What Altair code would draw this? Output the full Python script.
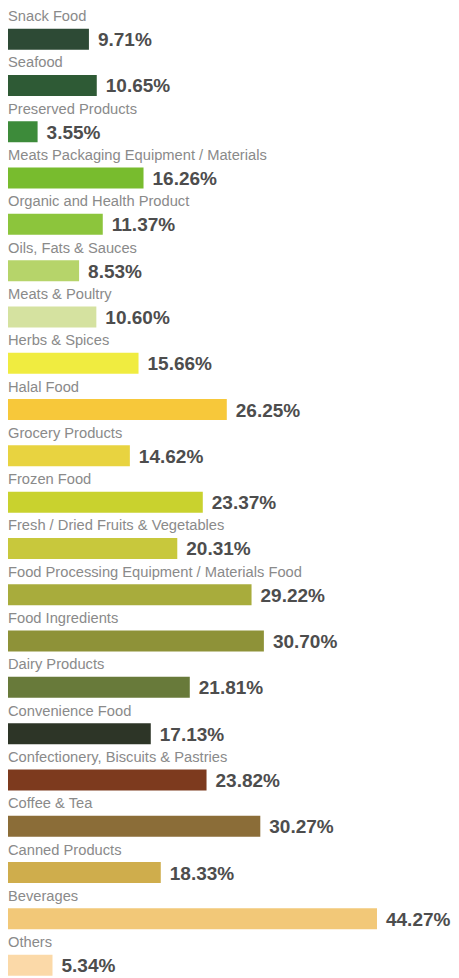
import altair as alt
import pandas as pd

categories = [
    "Snack Food", "Seafood", "Preserved Products",
    "Meats Packaging Equipment / Materials", "Organic and Health Product",
    "Oils, Fats & Sauces", "Meats & Poultry", "Herbs & Spices", "Halal Food",
    "Grocery Products", "Frozen Food", "Fresh / Dried Fruits & Vegetables",
    "Food Processing Equipment / Materials Food", "Food Ingredients",
    "Dairy Products", "Convenience Food", "Confectionery, Biscuits & Pastries",
    "Coffee & Tea", "Canned Products", "Beverages", "Others",
]
values = [9.71, 10.65, 3.55, 16.26, 11.37, 8.53, 10.60, 15.66, 26.25, 14.62,
          23.37, 20.31, 29.22, 30.70, 21.81, 17.13, 23.82, 30.27, 18.33, 44.27, 5.34]
colors = ["#2d4a35", "#2e5a35", "#3d8b3a", "#78bc2e", "#8cc53c", "#b6d46a",
          "#d5e2a0", "#f0ec40", "#f7c83a", "#e8d340", "#c9d22e", "#c8c83c",
          "#a8ac3c", "#8e9238", "#687a3a", "#2d3527", "#7d3a1e", "#8b6d38",
          "#cfad4c", "#f2c878", "#fbd9a8"]

df = pd.DataFrame({
    "cat": categories,
    "value": values,
    "color": colors,
    "label": [f"{v:.2f}%" for v in values],
    "zero": [0] * len(values),
})

y = alt.Y("cat:N", sort=None, axis=None,
          scale=alt.Scale(range=[8.0, 980.3], paddingInner=0, paddingOuter=0))
xscale = alt.Scale(domain=[0, 53.15], nice=False, zero=True)

base = alt.Chart(df)

bars = base.mark_bar(size=21, cornerRadius=0).encode(
    x=alt.X("value:Q", scale=xscale, axis=None),
    y=y,
    color=alt.Color("color:N", scale=None, legend=None),
)

vals = base.mark_text(align="left", baseline="middle", dx=9, dy=1,
                      font="Liberation Sans", fontSize=19, fontWeight="bold",
                      color="#4d4d4d").encode(
    x=alt.X("value:Q", scale=xscale),
    y=y,
    text="label:N",
)

names = base.mark_text(align="left", baseline="middle", dy=-22,
                       font="Liberation Sans", fontSize=14.7,
                       color="#8a8a8a").encode(
    x=alt.X("zero:Q", scale=xscale),
    y=y,
    text="cat:N",
)

chart = alt.layer(bars, vals, names).properties(
    width=443, height=970, padding=0, background="white",
    autosize=alt.AutoSizeParams(type="none"),
).configure_view(strokeWidth=0)

chart.save("out.html", embed_options={"renderer": "svg", "actions": False})
